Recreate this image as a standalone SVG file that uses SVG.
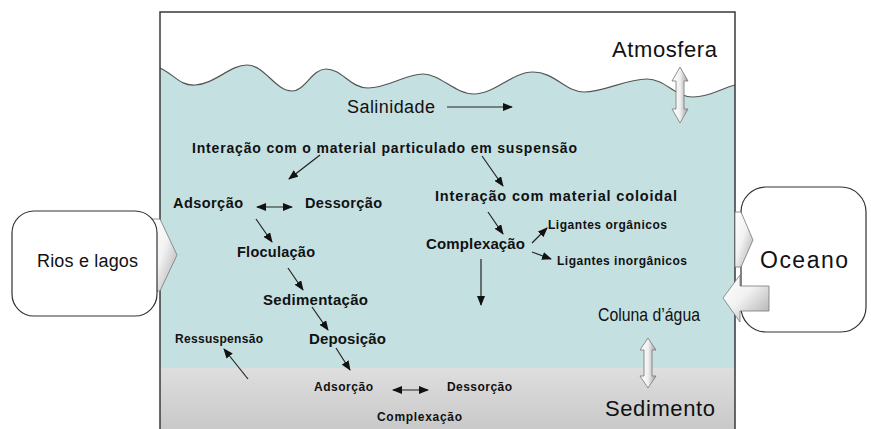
<svg xmlns="http://www.w3.org/2000/svg" width="871" height="429" viewBox="0 0 871 429">
<defs>
<style>
.t{font-family:"Liberation Sans",Arial,sans-serif;fill:#111}
.b{font-weight:bold}
.c{stroke:#222;stroke-width:1.2;fill:none}
.box{fill:#fff;stroke:#333;stroke-width:1.2}
.blk{fill:url(#ag);stroke:#777;stroke-width:0.8}
</style>
<marker id="ah" markerUnits="userSpaceOnUse" markerWidth="10" markerHeight="8" refX="9" refY="4" orient="auto-start-reverse">
<path d="M0,0 L10,4 L0,8 z" fill="#111"/>
</marker>
<linearGradient id="ag" x1="0" y1="0" x2="1" y2="1">
<stop offset="0" stop-color="#ffffff"/>
<stop offset="0.45" stop-color="#f2f2f2"/>
<stop offset="1" stop-color="#a8a8a8"/>
</linearGradient>
<linearGradient id="ag2" x1="0" y1="0" x2="1" y2="0">
<stop offset="0" stop-color="#ffffff"/>
<stop offset="0.5" stop-color="#f0f0f0"/>
<stop offset="1" stop-color="#a0a0a0"/>
</linearGradient>
<linearGradient id="sed" x1="0" y1="0" x2="0" y2="1">
<stop offset="0" stop-color="#dedede"/>
<stop offset="1" stop-color="#c6c6c6"/>
</linearGradient>
</defs>

<g id="scene">
<rect x="160" y="12" width="575" height="430" fill="#fff"/>
<path d="M160,68 C175,75 180,86 195,85 C215,84 230,65 247,65 C265,65 275,91 292,91 C305,91 312,69 326,69 C342,69 350,88 368,88 C388,88 405,74 423,74 C440,74 455,94 474,94 C495,94 512,72 533,72 C555,72 565,92 584,92 C605,92 625,79 647,79 C665,79 675,97 693,97 C710,97 722,88 735,85 L735,368 L160,368 Z" fill="#c5e0e1"/>
<rect x="160" y="368" width="575" height="70" fill="url(#sed)"/>
<path d="M160,68 C175,75 180,86 195,85 C215,84 230,65 247,65 C265,65 275,91 292,91 C305,91 312,69 326,69 C342,69 350,88 368,88 C388,88 405,74 423,74 C440,74 455,94 474,94 C495,94 512,72 533,72 C555,72 565,92 584,92 C605,92 625,79 647,79 C665,79 675,97 693,97 C710,97 722,88 735,85" fill="none" stroke="#555" stroke-width="1.2"/>
<rect x="160" y="12" width="575" height="430" fill="none" stroke="#3a3a3a" stroke-width="1.5"/>
</g>

<g id="atmosfera">
<text class="t" x="612" y="57" font-size="22" textLength="105">Atmosfera</text>
<path class="blk" style="fill:url(#ag2)" d="M680,67 L688,81 L684,81 L684,109 L688,109 L680,123 L672,109 L676,109 L676,81 L672,81 Z"/>
</g>

<g id="salinidade"><text class="t" x="347" y="113" font-size="18" textLength="88">Salinidade</text></g>

<g id="particulado"><text class="t b" x="192" y="153" font-size="14" textLength="385">Interação com o material particulado em suspensão</text></g>
<g id="adsorcao1"><text class="t b" x="173" y="208" font-size="14.5" textLength="70">Adsorção</text></g>
<g id="dessorcao1"><text class="t b" x="305" y="208" font-size="14.5" textLength="77">Dessorção</text></g>
<g id="coloidal"><text class="t b" x="435" y="201" font-size="14.5" textLength="242">Interação com material coloidal</text></g>
<g id="floculacao"><text class="t b" x="237" y="257" font-size="14.5" textLength="78">Floculação</text></g>
<g id="complexacao1"><text class="t b" x="426" y="249" font-size="15" textLength="99">Complexação</text></g>
<g id="lig-org"><text class="t b" x="548" y="229" font-size="12" textLength="119">Ligantes orgânicos</text></g>
<g id="lig-inorg"><text class="t b" x="557" y="265" font-size="12" textLength="130">Ligantes inorgânicos</text></g>
<g id="sedimentacao"><text class="t b" x="263" y="305" font-size="15" textLength="105">Sedimentação</text></g>
<g id="deposicao"><text class="t b" x="309" y="344" font-size="15" textLength="77">Deposição</text></g>
<g id="ressuspensao"><text class="t b" x="175" y="343" font-size="12" textLength="88">Ressuspensão</text></g>
<g id="adsorcao2"><text class="t b" x="314" y="391" font-size="12" textLength="59">Adsorção</text></g>
<g id="dessorcao2"><text class="t b" x="447" y="391" font-size="12" textLength="65">Dessorção</text></g>
<g id="complexacao2"><text class="t b" x="377" y="421" font-size="12" textLength="85">Complexação</text></g>
<g id="coluna"><text class="t" x="598" y="321" font-size="18.5" textLength="102" lengthAdjust="spacingAndGlyphs">Coluna d’água</text></g>

<g id="sedimento">
<text class="t" x="605" y="416" font-size="22" textLength="110">Sedimento</text>
<path class="blk" style="fill:url(#ag2)" d="M648,338 L656,350 L652,350 L652,376 L656,376 L648,388 L640,376 L644,376 L644,350 L640,350 Z"/>
</g>

<g id="rios">
<path class="blk" d="M152,219 L160,219 L177,255 L160,291 L152,291 Z"/>
<rect class="box" x="12" y="211" width="145" height="105" rx="22"/>
<text class="t" x="37" y="267" font-size="18" textLength="101">Rios e lagos</text>
</g>

<g id="oceano">
<rect class="box" x="741" y="187" width="125" height="145" rx="25"/>
<path class="blk" d="M735,212 L741,212 L753,240 L741,267 L735,267 Z"/>
<path class="blk" d="M769,286 L769,311 L740,311 L740,322 L723,298 L740,275 L740,286 Z"/>
<text class="t" x="760" y="268" font-size="23" textLength="88">Oceano</text>
</g>

<g id="connectors">
<line class="c" x1="447" y1="107" x2="512" y2="107" marker-end="url(#ah)"/>
<line class="c" x1="320" y1="155" x2="289" y2="179" marker-end="url(#ah)"/>
<line class="c" x1="482" y1="156" x2="503" y2="186" marker-end="url(#ah)"/>
<line class="c" x1="257" y1="207" x2="292" y2="207" marker-start="url(#ah)" marker-end="url(#ah)"/>
<line class="c" x1="256" y1="219" x2="272" y2="242" marker-end="url(#ah)"/>
<line class="c" x1="488" y1="212" x2="503" y2="234" marker-end="url(#ah)"/>
<line class="c" x1="532" y1="243" x2="547" y2="228" marker-end="url(#ah)"/>
<line class="c" x1="532" y1="252" x2="551" y2="259" marker-end="url(#ah)"/>
<line class="c" x1="481" y1="259" x2="481" y2="305" marker-end="url(#ah)"/>
<line class="c" x1="288" y1="268" x2="303" y2="290" marker-end="url(#ah)"/>
<line class="c" x1="312" y1="307" x2="328" y2="330" marker-end="url(#ah)"/>
<line class="c" x1="336" y1="348" x2="350" y2="370" marker-end="url(#ah)"/>
<line class="c" x1="248" y1="379" x2="224" y2="349" marker-end="url(#ah)"/>
<line class="c" x1="393" y1="390" x2="428" y2="390" marker-start="url(#ah)" marker-end="url(#ah)"/>
</g>
</svg>
